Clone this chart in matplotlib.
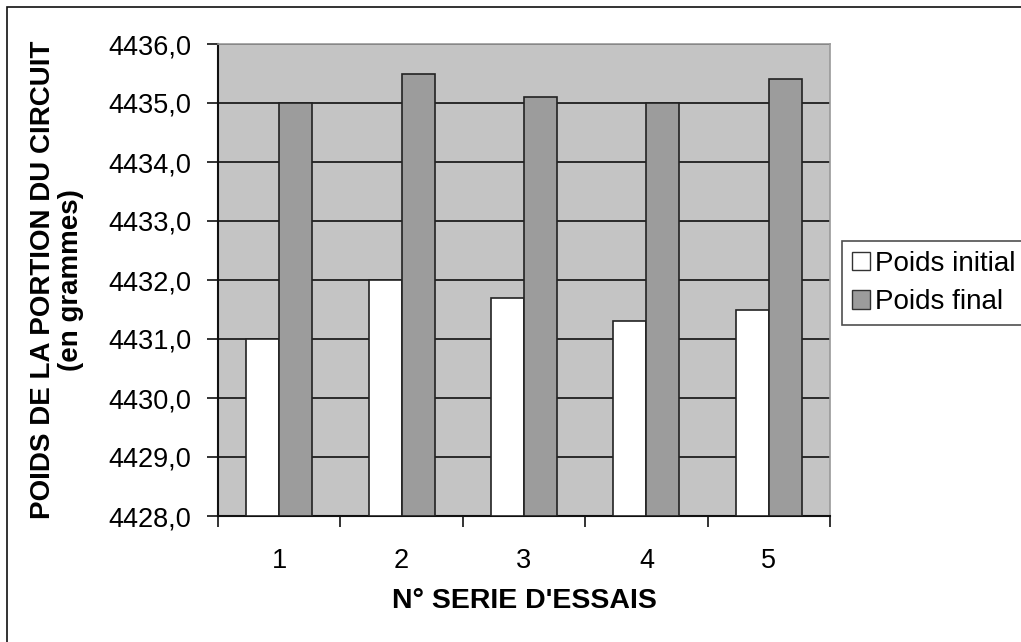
import matplotlib
matplotlib.use("Agg")
import matplotlib.pyplot as plt
import numpy as np
from matplotlib.patches import Rectangle
from matplotlib.ticker import FuncFormatter, FixedLocator

plt.rcParams['font.family'] = ['Liberation Sans', 'DejaVu Sans']

categories = ["1", "2", "3", "4", "5"]
poids_initial = [4431.0, 4432.0, 4431.7, 4431.3, 4431.5]
poids_final = [4435.0, 4435.5, 4435.1, 4435.0, 4435.4]
y_ticks = [4428, 4429, 4430, 4431, 4432, 4433, 4434, 4435, 4436]

W, H = 1021, 642
fig = plt.figure(figsize=(W / 100, H / 100), dpi=100)
ax = fig.add_axes([218 / W, 1 - 516 / H, (830 - 218) / W, (516 - 44) / H])
ax.set_facecolor('#c4c4c4')

x = np.arange(len(categories))
bw = 0.27
ax.bar(x - bw / 2, np.array(poids_initial) - 4428, bw, bottom=4428, color='white',
       edgecolor='#222222', linewidth=1.2, label='Poids initial', zorder=3)
ax.bar(x + bw / 2, np.array(poids_final) - 4428, bw, bottom=4428, color='#9c9c9c',
       edgecolor='#222222', linewidth=1.2, label='Poids final', zorder=3)

ax.set_xlim(-0.5, len(categories) - 0.5)
ax.set_ylim(4428, 4436)
ax.set_yticks(y_ticks)
ax.yaxis.set_major_formatter(FuncFormatter(lambda v, p: f"{v:.1f}".replace('.', ',')))
ax.yaxis.grid(True, color='#111111', linewidth=1.2, zorder=1)
ax.set_axisbelow(True)

ax.set_xticks(x)
ax.set_xticklabels(categories)
ax.xaxis.set_minor_locator(FixedLocator(np.arange(-0.5, len(categories), 1.0)))
ax.tick_params(axis='x', which='major', length=0, pad=23, labelsize=19.5)
ax.tick_params(axis='x', which='minor', length=8, width=1.2, color='#111111', direction='out')
ax.tick_params(axis='y', length=8, width=1.2, color='#111111', pad=11, labelsize=19.5)

for s in ['left', 'bottom']:
    ax.spines[s].set_color('#111111')
    ax.spines[s].set_linewidth(1.5)
for s in ['top', 'right']:
    ax.spines[s].set_color('#999999')
    ax.spines[s].set_linewidth(1.2)

ax.set_xlabel("N° SERIE D'ESSAIS", fontsize=20.5, fontweight='bold')
ax.xaxis.set_label_coords(0.5, (516 - 601) / 472)
ax.xaxis.label.set_verticalalignment('center')

ax.set_ylabel("POIDS DE LA PORTION DU CIRCUIT\n(en grammes)", fontsize=20,
              fontweight='bold', linespacing=1.1)
ax.yaxis.set_label_coords((57 - 218) / 612, 0.5)
ax.yaxis.label.set_verticalalignment('center')

leg = ax.legend(loc='upper left', bbox_to_anchor=(842 / W, 1 - 241 / H),
                bbox_transform=fig.transFigure, frameon=True, fancybox=False,
                fontsize=20, handlelength=0.65, handleheight=0.65, handletextpad=0.2,
                borderpad=0.35, labelspacing=0.45, borderaxespad=0)
leg.get_frame().set_edgecolor('#222222')
leg.get_frame().set_linewidth(1.2)
for h in leg.legend_handles:
    h.set_edgecolor('#333333')
    h.set_linewidth(1.0)

fig.patches.append(Rectangle((7 / W, -0.05), 1.1, 1 - 7 / H + 0.05,
                             transform=fig.transFigure, fill=False,
                             edgecolor='#111111', linewidth=1.2))

fig.savefig('out.png', dpi=100)
